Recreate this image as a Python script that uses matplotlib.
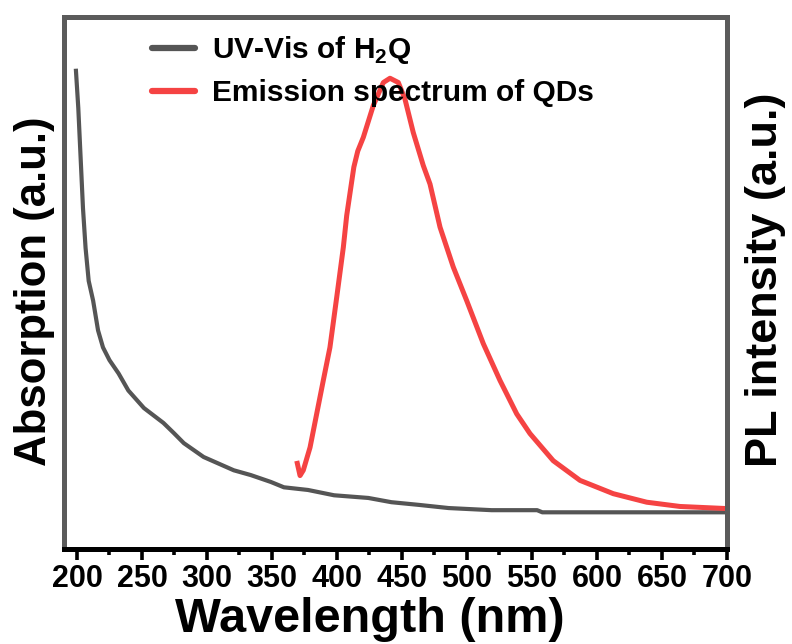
import numpy as np
import matplotlib.pyplot as plt
from matplotlib.ticker import MultipleLocator

# UV-Vis absorption of H2Q (wavelength in nm, absorbance in a.u.)
uv_wl = [199.2, 201.0, 202.8, 204.6, 206.6, 209.0, 212.4, 216.2, 220.0, 225.0,
         232.0, 239.5, 251.5, 266.5, 274.5, 282.2, 297.4, 320.6, 333.7, 349.2,
         359.2, 377.7, 397.8, 424.1, 441.9, 462.8, 485.9, 519.0, 554.0, 558.0, 700.0]
uv_abs = [0.899, 0.829, 0.735, 0.641, 0.566, 0.504, 0.467, 0.411, 0.379, 0.355,
          0.330, 0.298, 0.265, 0.237, 0.218, 0.199, 0.173, 0.148, 0.139, 0.126,
          0.116, 0.111, 0.101, 0.096, 0.088, 0.083, 0.077, 0.073, 0.073, 0.069, 0.069]

# PL emission spectrum of the QDs
pl_wl = [369.5, 371.6, 374.1, 379.3, 384.4, 389.5, 394.6, 399.8, 404.9, 407.5,
         411.3, 413.0, 416.0, 420.3, 428.0, 435.7, 440.8, 447.2, 452.3, 458.7,
         466.4, 471.6, 479.3, 489.5, 499.8, 512.6, 525.4, 538.3, 548.5, 566.4,
         587.0, 612.6, 638.3, 663.8, 700.0]
pl_int = [0.161, 0.138, 0.148, 0.191, 0.254, 0.317, 0.379, 0.473, 0.567, 0.627,
          0.690, 0.718, 0.748, 0.774, 0.834, 0.877, 0.885, 0.877, 0.846, 0.783,
          0.721, 0.686, 0.605, 0.530, 0.467, 0.386, 0.317, 0.254, 0.217, 0.166,
          0.129, 0.104, 0.088, 0.080, 0.076]

plt.rcParams['font.family'] = ['Liberation Sans', 'DejaVu Sans']
plt.rcParams['font.weight'] = 'bold'
plt.rcParams['mathtext.fontset'] = 'custom'
plt.rcParams['mathtext.rm'] = 'Liberation Sans:bold'
plt.rcParams['mathtext.bf'] = 'Liberation Sans:bold'

fig = plt.figure(figsize=(7.92, 6.44), dpi=100)
ax = fig.add_axes([0.0808, 0.1475, 0.837, 0.826])

ax.plot(uv_wl, uv_abs, color='#555555', lw=3.0, solid_joinstyle='round',
        label=r'UV-Vis of H$_{\mathbf{2}}$Q')
ax.plot(pl_wl, pl_int, color='#f54343', lw=3.6, solid_joinstyle='round',
        label='Emission spectrum of QDs')

ax.set_xlim(190, 700)
ax.set_ylim(0, 1)

ax.xaxis.set_major_locator(MultipleLocator(50))
ax.xaxis.set_minor_locator(MultipleLocator(25))
ax.tick_params(axis='x', which='major', direction='out', length=8, width=2.6,
               color='black', pad=3, labelsize=22)
ax.tick_params(axis='x', which='minor', direction='out', length=4.5, width=2.6, color='black')
ax.tick_params(axis='y', left=False, labelleft=False)

for side in ['top', 'left', 'right']:
    ax.spines[side].set_color('#5b5b5b')
    ax.spines[side].set_linewidth(3.6)
ax.spines['bottom'].set_color('black')
ax.spines['bottom'].set_linewidth(3.6)

ax.set_xlabel('Wavelength (nm)', fontsize=35, fontweight='bold')
ax.xaxis.set_label_coords(0.462, -0.156)
ax.xaxis.label.set_va('baseline')
fig.text(0.043, 0.547, 'Absorption (a.u.)', rotation=90, fontsize=31.5,
         fontweight='bold', ha='center', va='center')
fig.text(0.966, 0.566, 'PL intensity (a.u.)', rotation=90, fontsize=32.5,
         fontweight='bold', ha='center', va='center')

leg = ax.legend(loc='upper left', bbox_to_anchor=(0.133, 0.968), frameon=False,
                fontsize=21.5, handlelength=1.44, handletextpad=0.57,
                labelspacing=0.44, borderpad=0, borderaxespad=0)
for h in leg.get_lines():
    h.set_linewidth(4.5)
    h.set_solid_capstyle('round')

fig.savefig('out.png', dpi=100)
